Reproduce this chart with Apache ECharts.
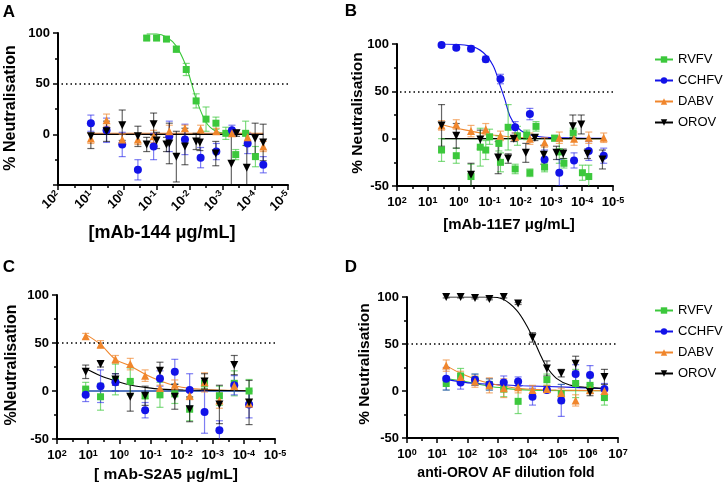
<!DOCTYPE html>
<html>
<head>
<meta charset="utf-8">
<script src="https://cdn.jsdelivr.net/npm/echarts@6/dist/echarts.min.js"></script>
<style>
  html, body { margin: 0; padding: 0; background: #fff; }
  #main { width: 725px; height: 489px; }
</style>
</head>
<body>
<div id="main"></div>
<script>
// ---- data: [concentration or dilution, % neutralisation, error] ----
// panel A : mAb-144
const A_RVFV = [[0.2, 95, 2], [0.1, 95, 2], [0.05, 94, 2], [0.025, 84, 3], [0.0125, 64, 6], [0.00625, 33, 7],
  [0.003125, 15, 12], [0.00156, 11, 6], [7.8e-4, 1, 6], [3.9e-4, -20, 5], [1.95e-4, 1, 12], [9.8e-5, -22, 10]];
const A_CCHFV = [[10, 11, 8], [3.33, 4, 12], [1.11, -10, 12], [0.37, -35, 10], [0.123, -12, 13], [0.041, -2, 15],
  [0.0137, -5, 15], [0.00457, -23, 10], [0.00152, -17, 8], [5.08e-4, 4, 5], [1.69e-4, -9, 10], [5.65e-5, -30, 8]];
const A_DABV = [[10, -4, 5], [3.33, 14, 6], [1.11, -5, 5], [0.37, -5, 5], [0.123, -2, 6], [0.041, 3, 6],
  [0.0137, 6, 3], [0.00457, 5, 4], [0.00152, 3, 3], [5.08e-4, 1, 3], [1.69e-4, -3, 5], [5.65e-5, -12, 5]];
const A_OROV = [[10, -2, 12], [3.33, 3, 10], [1.11, 9, 15], [0.37, -2, 10], [0.2, -10, 7], [0.123, 10, 11],
  [0.1, -6, 8], [0.05, -10, 7], [0.041, -9, 20], [0.025, -22, 25], [0.0137, -12, 18], [0.00625, -7, 8],
  [0.0048, -8, 8], [0.00158, -19, 12], [5.3e-4, -29, 30], [3.7e-4, 1, 3], [1.8e-4, -33, 22], [1e-4, -4, 15], [5.7e-5, -8, 18]];
const A_RVFV_FIT = [[0.2, 99], [0.1, 99], [0.05, 96], [0.025, 87], [0.0125, 67], [0.0086, 50], [0.00625, 35],
  [0.003125, 12], [0.00156, 3], [7.8e-4, 1], [3.5e-4, 0]];
const A_CCHFV_FIT = [[10, 0], [5.65e-5, 0]];
const A_DABV_FIT = [[10, 1], [5.65e-5, 1]];
const A_OROV_FIT = [[10, 0], [5.65e-5, 0]];

// panel B : mAb-11E7
const B_RVFV = [[3.6, -12, 12], [1.2, -18, 8], [0.4, -40, 13], [0.2, -9, 20], [0.133, -12, 10], [0.1, 2, 8],
  [0.05, -5, 8], [0.0444, -25, 10], [0.025, 12, 24], [0.0148, -32, 5], [0.0125, 3, 10], [0.00625, 4, 5],
  [0.00494, -36, 4], [0.003125, 13, 5], [0.00165, -30, 5], [7.8e-4, 0.5, 3], [5.5e-4, -14, 12], [3.9e-4, -26, 5],
  [1.95e-4, 6, 5], [9.8e-5, -36, 8], [6.1e-5, -40, 12]];
const B_CCHFV = [[3.6, 99, 2], [1.2, 96, 2], [0.4, 95, 3], [0.133, 84, 3], [0.0444, 63, 5], [0.0148, 12, 6],
  [0.00494, 26, 6], [0.00165, -22, 10], [5.5e-4, -36, 14], [1.83e-4, -23, 8], [6.1e-5, -13, 10], [2.0e-5, -18, 8]];
const B_DABV = [[3.6, 14, 5], [1.2, 15, 5], [0.4, 8, 6], [0.133, 10, 6], [0.0444, 3, 5], [0.0148, 2, 4],
  [0.00494, 0, 6], [0.00165, -4, 5], [5.5e-4, 1, 6], [1.83e-4, 0, 7], [6.1e-5, 1, 6], [2.0e-5, 1, 5]];
const B_OROV = [[3.6, 14, 22], [1.2, 3, 13], [0.4, -38, 12], [0.2, -1, 10], [0.0527, -20, 17], [0.025, -21, 5],
  [0.0164, 0, 3], [0.0067, -15, 10], [0.0034, 1, 3], [0.00175, -17, 10], [6.8e-4, -15, 7], [4.1e-4, -16, 5],
  [2.0e-4, 13, 12], [1.07e-4, 15, 10], [6.7e-5, -16, 5], [2.2e-5, -22, 10]];
const B_RVFV_FIT = [[3.6, 0], [2.0e-5, 0]];
const B_CCHFV_FIT = [[3.6, 100], [0.434, 98], [0.161, 91], [0.0764, 77], [0.0464, 57], [0.032, 41.5],
  [0.022, 24], [0.0134, 13], [0.0072, 6], [0.00236, 2], [2.0e-4, 0.7], [2.0e-5, 0.5]];
const B_DABV_FIT = [[3.6, 15], [1.2, 11], [0.4, 8], [0.133, 5], [0.0444, 3], [0.0148, 1.4], [0.00494, 0.4],
  [0.00165, 0.1], [2.0e-5, 0]];
const B_OROV_FIT = [[3.6, 0], [2.0e-5, 0]];

// panel C : mAb-S2A5
const C_RVFV = [[12, 2, 7], [4, -6, 14], [1.33, 12, 16], [0.444, 10, 14], [0.148, -5, 3], [0.0494, -4, 13],
  [0.0165, -3, 10], [0.0055, -19, 12], [0.00183, 8, 5], [6.1e-4, -5, 10], [2.03e-4, 8, 13], [6.8e-5, 0, 12]];
const C_CCHFV = [[12, -4, 7], [4, 5, 17], [1.33, 9, 9], [0.148, -20, 8], [0.0494, 13, 8], [0.0165, 20, 13],
  [0.0055, 1, 17], [0.00183, -22, 22], [6.1e-4, -41, 10], [2.03e-4, 6, 10], [6.8e-5, -14, 14]];
const C_DABV = [[12, 57, 3], [4, 48.5, 4], [1.33, 33, 4], [0.444, 28, 6], [0.148, 16, 6], [0.0494, 3, 3],
  [0.0165, 6.5, 5], [0.0055, -5, 4], [0.00183, 9, 10], [6.1e-4, -10, 8], [2.03e-4, 5.5, 4], [6.8e-5, -13, 4]];
const C_OROV = [[12, 20, 7], [4, 28, 3], [1.33, 12, 6], [0.444, -6, 15], [0.148, -5, 10], [0.0494, 21, 9],
  [0.0165, -6, 13], [0.0055, -19, 13], [0.00183, 10, 8], [6.1e-4, -14, 20], [2.03e-4, 27, 10], [6.8e-5, -12, 23]];
const C_RVFV_FIT = [[12, 0], [6.8e-5, 0]];
const C_CCHFV_FIT = [[12, 0], [6.8e-5, 0]];
const C_DABV_FIT = [[12, 59], [4, 48.5], [1.33, 33], [0.444, 26], [0.148, 17.5], [0.0494, 10.6], [0.0165, 5.5],
  [0.0055, 2.8], [0.0012, 1.3], [6.8e-5, 0.3]];
const C_OROV_FIT = [[12, 23.4], [4, 15.8], [1.33, 10.6], [0.444, 6.2], [0.148, 3.8], [0.0494, 2], [0.0087, 1], [6.8e-5, 0.3]];

// panel D : anti-OROV AF dilution fold
const D_RVFV = [[20, 8, 7], [60, 16, 8], [180, 12, 6], [540, 7, 6], [1620, 2, 8], [4860, -11, 13],
  [43740, 12, 6], [131220, -3, 10], [393660, 8, 15], [1180980, 6, 8], [3542940, -7, 8]];
const D_CCHFV = [[20, 13, 12], [60, 9, 7], [180, 12, 6], [540, 7, 6], [1620, 9, 7], [4860, 10, 5],
  [14580, -6, 9], [43740, 1, 2], [131220, -10, 17], [393660, 18, 10], [1180980, 17, 10], [3542940, 2, 6]];
const D_DABV = [[20, 27, 6], [60, 15, 6], [180, 10, 6], [540, 6, 8], [1620, 3, 10], [4860, 4, 6],
  [14580, 1, 5], [43740, 2, 4], [131220, -2, 5], [393660, -10, 6], [1180980, 1, 4], [3542940, 0, 4]];
const D_OROV = [[20, 100, 1], [60, 100, 1], [180, 99, 1], [540, 98, 1], [1620, 100, 1], [4860, 93, 1],
  [14580, 57, 5], [43740, 24, 8], [131220, 19, 4], [393660, 29, 8], [1180980, -1, 4], [3542940, 15, 8]];
const D_RVFV_FIT = [[20, 13], [60, 11], [180, 8], [540, 5], [1620, 3], [5000, 1.5], [35000, 0.6], [3542940, 0.2]];
const D_CCHFV_FIT = [[20, 12.4], [157, 8.2], [7120, 5.6], [321000, 3.9], [3542940, 2.4]];
const D_DABV_FIT = [[20, 27], [60, 18.8], [180, 12.8], [540, 8.2], [2000, 4.6], [9200, 2.1], [90600, 1], [3542940, 0.3]];
const D_OROV_FIT = [[20, 100], [560, 100], [1545, 97.5], [4290, 86], [9200, 70], [15200, 56], [25350, 40],
  [42250, 26], [90600, 13.5], [249600, 6.4], [891000, 3.9], [3542940, 2.9]];

const VIRUSES = ['RVFV', 'CCHFV', 'DABV', 'OROV'];
const X_TITLES = ['[mAb-144 μg/mL]', '[mAb-11E7 μg/mL]', '[ mAb-S2A5 μg/mL]', 'anti-OROV AF dilution fold'];

const FONT = '"Liberation Sans", Arial, Helvetica, sans-serif';

const LOOK = {
  RVFV:  { color: '#3cc83c', bar: 'rgba(60,200,60,0.65)', symbol: 'rect', size: 7, rot: 0 },
  CCHFV: { color: '#1212e8', bar: 'rgba(40,40,235,0.6)', symbol: 'circle', size: 8, rot: 0 },
  DABV:  { color: '#f0862c', bar: 'rgba(240,134,44,0.65)', symbol: 'triangle', size: 8, rot: 0 },
  OROV:  { color: '#000000', bar: 'rgba(0,0,0,0.6)', symbol: 'triangle', size: 8, rot: 180 }
};

const PANELS = [
  { pts: { RVFV: A_RVFV, CCHFV: A_CCHFV, DABV: A_DABV, OROV: A_OROV },
    fit: { RVFV: A_RVFV_FIT, CCHFV: A_CCHFV_FIT, DABV: A_DABV_FIT, OROV: A_OROV_FIT } },
  { pts: { RVFV: B_RVFV, CCHFV: B_CCHFV, DABV: B_DABV, OROV: B_OROV },
    fit: { RVFV: B_RVFV_FIT, CCHFV: B_CCHFV_FIT, DABV: B_DABV_FIT, OROV: B_OROV_FIT } },
  { pts: { RVFV: C_RVFV, CCHFV: C_CCHFV, DABV: C_DABV, OROV: C_OROV },
    fit: { RVFV: C_RVFV_FIT, CCHFV: C_CCHFV_FIT, DABV: C_DABV_FIT, OROV: C_OROV_FIT } },
  { pts: { RVFV: D_RVFV, CCHFV: D_CCHFV, DABV: D_DABV, OROV: D_OROV },
    fit: { RVFV: D_RVFV_FIT, CCHFV: D_CCHFV_FIT, DABV: D_DABV_FIT, OROV: D_OROV_FIT } }
];

// grid boxes (px)
const GRIDS = [
  { left: 58, top: 33, width: 230, height: 152 },
  { left: 397, top: 44, width: 216, height: 142 },
  { left: 57, top: 295, width: 218, height: 144 },
  { left: 407, top: 297, width: 211, height: 141 }
];

const lg = d => Math.log10(d);

function errBar(params, api) {
  const x = api.value(0), y = api.value(1), e = api.value(2);
  const hi = api.coord([x, y + e]);
  const lo = api.coord([x, y - e]);
  const hw = 3.5;
  const style = { stroke: api.visual('color'), lineWidth: 1.2 };
  return {
    type: 'group',
    children: [
      { type: 'line', shape: { x1: hi[0], y1: hi[1], x2: lo[0], y2: lo[1] }, style: style },
      { type: 'line', shape: { x1: hi[0] - hw, y1: hi[1], x2: hi[0] + hw, y2: hi[1] }, style: style },
      { type: 'line', shape: { x1: lo[0] - hw, y1: lo[1], x2: lo[0] + hw, y2: lo[1] }, style: style }
    ]
  };
}

const tickStyle = { color: '#000', width: 1.5 };
const supRich = {
  b: { fontSize: 13, fontWeight: 'bold', fontFamily: FONT, color: '#000' },
  s: { fontSize: 9, fontWeight: 'bold', fontFamily: FONT, color: '#000', verticalAlign: 'top' }
};

function xAxis(gi, min, max, inverse, rotate, margin) {
  return {
    type: 'value', gridIndex: gi, min: min, max: max, interval: 1, inverse: inverse,
    axisLine: { onZero: false, lineStyle: { color: '#000', width: 2 } },
    axisTick: { length: 5, lineStyle: tickStyle },
    minorTick: { show: true, splitNumber: 2, length: 3, lineStyle: tickStyle },
    splitLine: { show: false },
    axisLabel: {
      rotate: rotate, margin: margin, rich: supRich,
      formatter: v => '{b|10}{s|' + v + '}'
    }
  };
}

function yAxis(gi, hideMin) {
  return {
    type: 'value', gridIndex: gi, min: -50, max: 100, interval: 50,
    axisLine: { show: true, onZero: false, lineStyle: { color: '#000', width: 2 } },
    axisTick: { show: true, length: 5, lineStyle: tickStyle },
    minorTick: { show: true, splitNumber: 2, length: 3, lineStyle: tickStyle },
    splitLine: { show: false },
    axisLabel: {
      margin: 8, fontSize: 13, fontWeight: 'bold', fontFamily: FONT, color: '#000',
      formatter: v => (hideMin && v === -50) ? '' : String(v)
    }
  };
}

const series = [];
PANELS.forEach((p, gi) => {
  // fitted curves first (also used for the legend icons)
  VIRUSES.forEach(v => {
    const L = LOOK[v];
    series.push({
      name: v, type: 'line', xAxisIndex: gi, yAxisIndex: gi,
      data: p.fit[v].map(d => [lg(d[0]), d[1]]),
      smooth: 0.35, showSymbol: false, symbol: L.symbol, symbolRotate: L.rot, symbolSize: L.size,
      itemStyle: { color: L.color },
      lineStyle: { color: L.color, width: 1.1 },
      silent: true, z: 2
    });
  });
  VIRUSES.forEach(v => {
    const L = LOOK[v];
    series.push({
      type: 'custom', xAxisIndex: gi, yAxisIndex: gi, clip: true,
      renderItem: errBar, encode: { x: 0, y: 1 },
      data: p.pts[v].map(d => [lg(d[0]), d[1], d[2]]),
      itemStyle: { color: L.bar }, silent: true, z: 3
    });
  });
  VIRUSES.forEach((v, k) => {
    const L = LOOK[v];
    const s = {
      type: 'scatter', xAxisIndex: gi, yAxisIndex: gi,
      data: p.pts[v].map(d => [lg(d[0]), d[1]]),
      symbol: L.symbol, symbolRotate: L.rot, symbolSize: L.size,
      itemStyle: { color: L.color, opacity: 1 }, silent: true, z: 4
    };
    if (k === 0) {
      s.markLine = {
        silent: true, symbol: ['none', 'none'], label: { show: false },
        lineStyle: { color: '#000', type: [1.5, 3], width: 1.5 },
        data: [{ yAxis: 50 }]
      };
    }
    series.push(s);
  });
});

const legendBase = {
  data: VIRUSES, orient: 'vertical', left: 649, itemWidth: 18, itemHeight: 8, itemGap: 8,
  selectedMode: false, symbolRotate: 'inherit',
  textStyle: { fontSize: 13, fontFamily: FONT, color: '#000', lineHeight: 13 }
};

const title = (txt, x, y, size, rot) => ({
  type: 'text', x: x, y: y, rotation: rot || 0,
  style: { text: txt, fontSize: size, fontWeight: 'bold', fontFamily: FONT, fill: '#000',
    align: 'center', verticalAlign: 'middle' }
});

const option = {
  animation: false,
  backgroundColor: '#fff',
  grid: GRIDS.map(g => Object.assign({ containLabel: false }, g)),
  xAxis: [
    xAxis(0, -5, 2, true, 45, 8),
    xAxis(1, -5, 2, true, 0, 10),
    xAxis(2, -5, 2, true, 0, 10),
    xAxis(3, 0, 7, false, 0, 10)
  ],
  yAxis: [yAxis(0, true), yAxis(1, false), yAxis(2, false), yAxis(3, false)],
  legend: [
    Object.assign({ top: 48 }, legendBase),
    Object.assign({ top: 299 }, legendBase)
  ],
  graphic: [
    title('A', 9, 12, 17), title('B', 351, 11, 17), title('C', 9, 267, 17), title('D', 351, 267, 17),
    title('% Neutralisation', 11, 108, 16, Math.PI / 2),
    title('% Neutralisation', 358, 113, 15.5, Math.PI / 2),
    title('%Neutralisation', 11.5, 365, 16, Math.PI / 2),
    title('% Neutralisation', 365, 364, 15.5, Math.PI / 2),
    title(X_TITLES[0], 162, 233, 18),
    title(X_TITLES[1], 509, 225, 15),
    title(X_TITLES[2], 166, 475, 15.5),
    title(X_TITLES[3], 506, 473, 14)
  ],
  series: series
};

const chart = echarts.init(document.getElementById('main'), null, { renderer: 'canvas' });
chart.setOption(option);
</script>
</body>
</html>
